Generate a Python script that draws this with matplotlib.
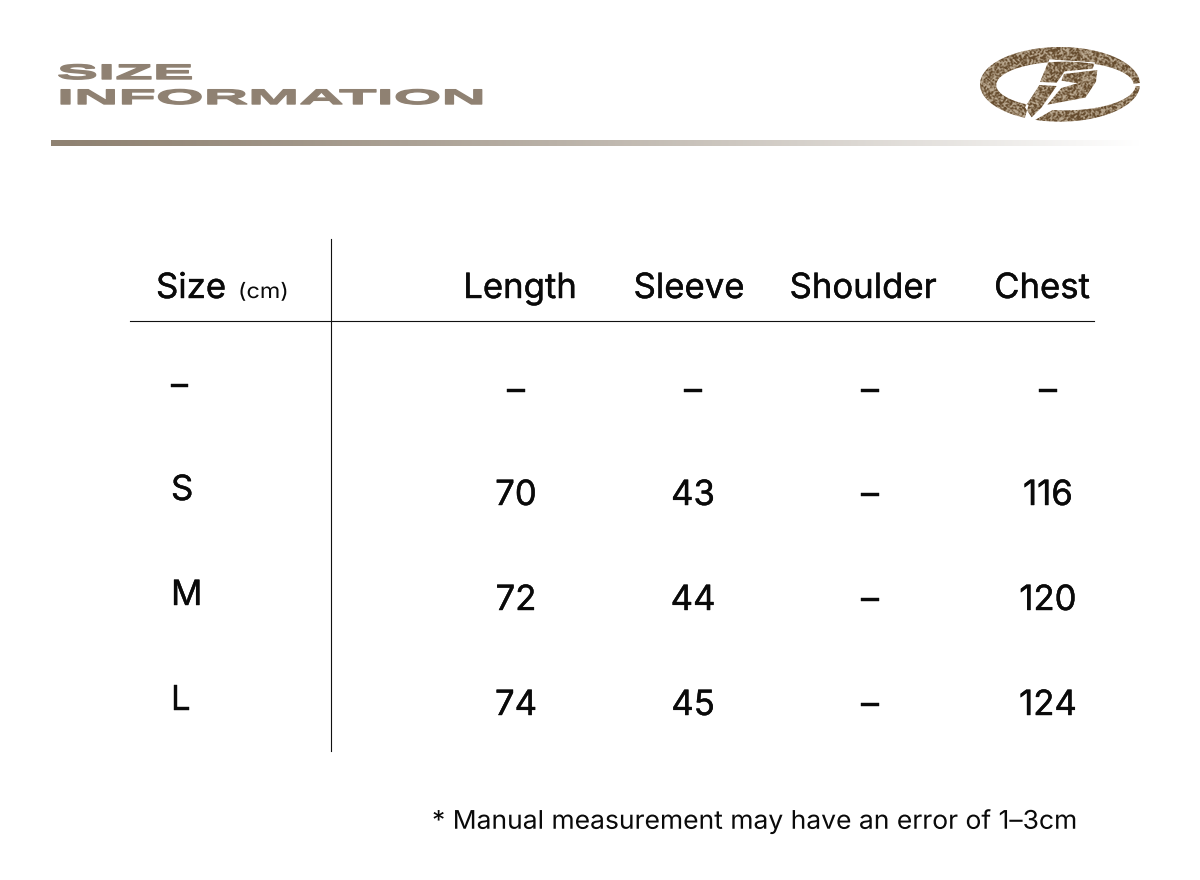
import matplotlib
matplotlib.use("Agg")
import matplotlib.pyplot as plt
from matplotlib.patches import PathPatch
from matplotlib.path import Path
from matplotlib.patheffects import AbstractPathEffect, withStroke
from matplotlib.transforms import Affine2D
import numpy as np

plt.rcParams['font.family'] = ['Inter', 'Noto Sans', 'DejaVu Sans']

columns = ["Length", "Sleeve", "Shoulder", "Chest"]
sizes = ["–", "S", "M", "L"]
length = ["–", "70", "72", "74"]
sleeve = ["–", "43", "44", "45"]
shoulder = ["–", "–", "–", "–"]
chest = ["–", "116", "120", "124"]
title_lines = ["SIZE", "INFORMATION"]
note = "* Manual measurement may have an error of 1–3cm"


class StretchX(AbstractPathEffect):
    """Widen real text horizontally about a display x position."""
    def __init__(self, sx, x0, stroke=0.0):
        super().__init__()
        self.sx, self.x0, self.stroke = sx, x0, stroke

    def draw_path(self, renderer, gc, tpath, affine, rgbFace=None):
        a = affine + Affine2D().translate(-self.x0, 0).scale(self.sx, 1).translate(self.x0, 0)
        if self.stroke:
            g = renderer.new_gc()
            g.copy_properties(gc)
            g.set_linewidth(self.stroke)
            g.set_foreground(rgbFace)
            renderer.draw_path(g, tpath, a, rgbFace)
            g.restore()
        else:
            renderer.draw_path(gc, tpath, a, rgbFace)


fig = plt.figure(figsize=(12, 8.8), dpi=100)
ax = fig.add_axes([0, 0, 1, 1])
ax.set_xlim(0, 1200)
ax.set_ylim(880, 0)
ax.axis("off")

# header gradient rule
grad = np.linspace(0, 1, 512).reshape(1, -1)
c0 = np.array([0x8f, 0x82, 0x72]) / 255
rgb = c0[None, None, :] + (1 - c0)[None, None, :] * grad[..., None] ** 1.25
ax.imshow(rgb, extent=(51, 1140, 146, 140), aspect="auto", zorder=1)
ax.set_xlim(0, 1200)
ax.set_ylim(880, 0)

# title: wide letterforms from real text
col_title = "#8f8172"
renderer = fig.canvas.get_renderer()
for line, y, right in zip(title_lines, [71.5, 96.5], [194, 486]):
    t = ax.text(57, y, line, fontsize=15, fontweight="bold", color=col_title,
                va="center_baseline", ha="left", family=["Liberation Sans"])
    ext = t.get_window_extent(renderer)
    t.set_path_effects([StretchX((right - 57) / ext.width, 57, stroke=1.0)])


# logo
def zp(points):
    return [(x / 3 + 960, y / 3 + 30) for x, y in points]


def ellipse_pts(cx, cy, a, b, t0, t1, n=80):
    t = np.radians(np.linspace(t0, t1, n))
    return list(zip(cx + a * np.cos(t), cy + b * np.sin(t)))


top_arc = (ellipse_pts(300, 163, 240, 112, 358, 116, 150) +
           ellipse_pts(315, 165, 206, 70, 122, 357, 150))
bot_arc = (ellipse_pts(300, 163, 240, 112, 3, 108, 60) +
           ellipse_pts(315, 165, 212, 76, 100, 2, 60))
glyph_a = [(268, 88), (405, 97), (398, 116), (314, 124), (290, 158), (240, 156)]
glyph_b = [(238, 165), (290, 168), (245, 232), (215, 262), (195, 232)]
glyph_c = [(312, 132), (412, 120), (408, 155), (376, 203), (262, 224),
           (304, 174), (352, 160), (304, 152)]

# deterministic speckle for the stone-like logo surface
yy, xx = np.mgrid[0:83, 0:170]
h = np.sin(xx * 12.9898 + yy * 78.233) * 43758.5453
h = h - np.floor(h)
soft = (h + np.roll(h, 1, 0) + np.roll(h, 1, 1) + np.roll(np.roll(h, 1, 0), 1, 1)) / 4
tex = np.clip((soft - 0.5) * 2.4 + 0.42, 0, 1)
dark = np.array([0x66, 0x4c, 0x2e]) / 255
light = np.array([0xb9, 0xa8, 0x90]) / 255
tex_rgb = dark + (light - dark) * tex[..., None]

verts, codes = [], []
for shape in (top_arc, bot_arc, glyph_a, glyph_b, glyph_c):
    pts = zp(shape)
    verts += pts + [pts[0]]
    codes += [Path.MOVETO] + [Path.LINETO] * (len(pts) - 1) + [Path.CLOSEPOLY]
clip = PathPatch(Path(verts, codes), transform=ax.transData, fc="none", ec="none")
ax.add_patch(clip)
im = ax.imshow(tex_rgb, extent=(975, 1145, 125, 42), aspect="auto", zorder=2,
               interpolation="bilinear")
im.set_clip_path(clip)
ax.set_xlim(0, 1200)
ax.set_ylim(880, 0)

# table rules
ax.plot([331, 331], [239, 751], color="#111111", lw=0.8)
ax.plot([130, 1094], [321.5, 321.5], color="#111111", lw=0.8)

ink = "#0a0a0a"
heavy = [withStroke(linewidth=0.3, foreground=ink)]
fs = 25
ax.text(156, 289, "Size", fontsize=fs, va="center", ha="left", color=ink, path_effects=heavy)
ax.text(238, 292, "(cm)", fontsize=15, va="center", ha="left", color=ink,
        path_effects=[StretchX(1.12, 238)])

col_x = [520, 689, 863, 1042]
val_x = [516, 693, 870, 1048]
row_y = [392, 496, 601, 706]
size_y = [387, 491, 596, 701]

for x, c in zip(col_x, columns):
    ax.text(x, 289, c, fontsize=fs, va="center", ha="center", color=ink, path_effects=heavy)

for s, y in zip(sizes, size_y):
    ax.text(171, y, s, fontsize=fs, va="center", ha="left", color=ink, path_effects=heavy)

for x, vals in zip(val_x, [length, sleeve, shoulder, chest]):
    for v, y in zip(vals, row_y):
        ax.text(x, y, v, fontsize=25, va="center", ha="center", color=ink, path_effects=heavy)

ax.text(432, 822, note, fontsize=18.5, va="center", ha="left", color=ink,
        path_effects=[StretchX(1.03, 432)])

fig.savefig("out.png", dpi=100)
